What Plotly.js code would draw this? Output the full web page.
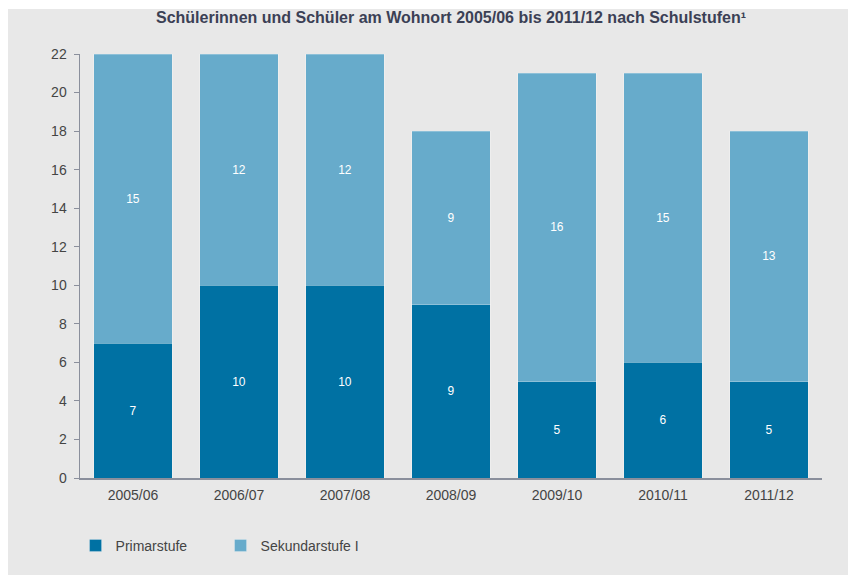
<!DOCTYPE html>
<html>
<head>
<meta charset="utf-8">
<script src="https://cdn.plot.ly/plotly-3.0.1.min.js"></script>
<style>
html,body{margin:0;padding:0;background:#ffffff;}
#chart{position:absolute;left:8px;top:9px;width:840px;height:566px;}
</style>
</head>
<body>
<div id="chart"></div>
<script>
const years = ["2005/06","2006/07","2007/08","2008/09","2009/10","2010/11","2011/12"];
const primar = [7,10,10,9,5,6,5];
const sekundar = [15,12,12,9,16,15,13];
const seriesNames = ["Primarstufe","Sekundarstufe I"];

const FONT = "Liberation Sans, Arial, sans-serif";
const lbl = {color:"#ffffff", size:12, family:FONT};
const traces = [
  {type:"bar", name:seriesNames[0], x:years, y:primar, text:primar.map(String),
   textposition:"inside", insidetextanchor:"middle", textfont:lbl,
   marker:{color:"#0071a3", line:{color:"rgba(255,255,255,0.25)", width:1}}, hoverinfo:"y"},
  {type:"bar", name:seriesNames[1], x:years, y:sekundar, text:sekundar.map(String),
   textposition:"inside", insidetextanchor:"middle", textfont:lbl,
   marker:{color:"#67abcb", line:{color:"rgba(255,255,255,0.25)", width:1}}, hoverinfo:"y"}
];
const axisCol = "#8a8f9c";
const layout = {
  width:840, height:566,
  paper_bgcolor:"#e8e8e8", plot_bgcolor:"#e8e8e8",
  margin:{l:72, r:26, t:45, b:97},
  barmode:"stack", bargap:0.264,
  font:{family:FONT, size:14, color:"#444444"},
  title:{text:"<b>Schülerinnen und Schüler am Wohnort 2005/06 bis 2011/12 nach Schulstufen¹</b>",
         x:0.5, xref:"paper", xanchor:"center", y:0.985, yref:"container", yanchor:"middle",
         font:{size:16, color:"#3b4055", family:FONT}},
  xaxis:{showline:true, linecolor:axisCol, linewidth:1.5, ticks:"", showgrid:false,
         tickfont:{size:14, color:"#444444"}, ticklabelstandoff:4, fixedrange:true},
  yaxis:{range:[0,22], dtick:2, showline:true, linecolor:axisCol, linewidth:1.5,
         ticks:"outside", ticklen:5, tickcolor:axisCol, showgrid:false, zeroline:false,
         tickfont:{size:14, color:"#444444"}, ticklabelstandoff:4, fixedrange:true},
  legend:{orientation:"h", x:-0.006, xanchor:"left", y:-0.16, yanchor:"middle",
          font:{size:14, color:"#444444"}, bgcolor:"rgba(0,0,0,0)", traceorder:"normal",
          entrywidth:100, entrywidthmode:"pixels"},
  showlegend:true
};
Plotly.newPlot("chart", traces, layout, {displayModeBar:false, staticPlot:true});
</script>
</body>
</html>
